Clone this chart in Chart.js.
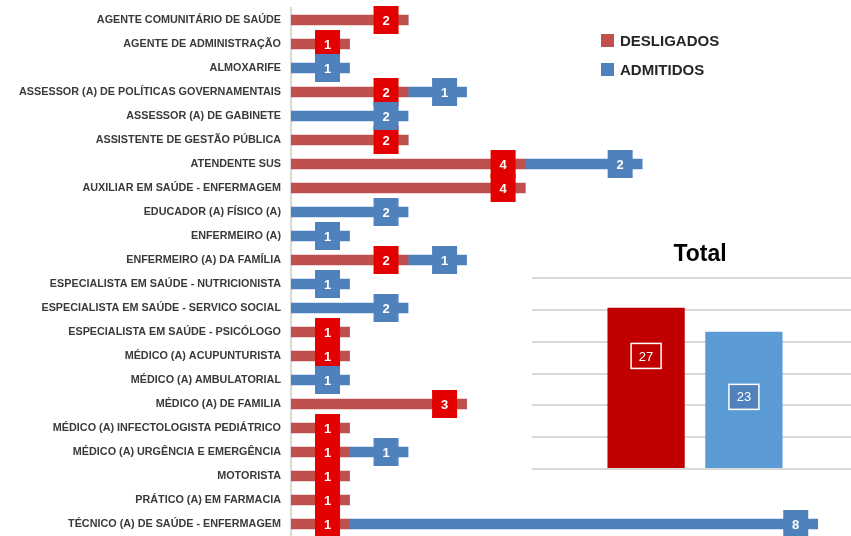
<!DOCTYPE html>
<html>
<head>
<meta charset="utf-8">
<script src="https://cdn.jsdelivr.net/npm/chart.js@4.4.1/dist/chart.umd.min.js"></script>
<style>
  html, body { margin: 0; background: #fff; font-family: "Liberation Sans", Arial, sans-serif; overflow: hidden; width: 851px; height: 536px; }
  #main { position: absolute; left: 0; top: 0; width: 851px; height: 536px; }
  #insetWrap { position: absolute; left: 520px; top: 270px; width: 331px; height: 204px; overflow: hidden; }
  #inset { position: absolute; left: 8px; top: 0; width: 331px; height: 204px; }
  .leg { position: absolute; left: 601px; font: bold 15px "Liberation Sans", Arial, sans-serif; color: #262626; }
  .leg span { display: inline-block; width: 13px; height: 13px; margin-right: 6px; vertical-align: -1px; }
  #totalTitle { position: absolute; left: 600px; width: 200px; top: 240px; text-align: center; font: bold 23px "Liberation Sans", Arial, sans-serif; color: #000; }
</style>
</head>
<body>
<div id="main"><canvas id="barChart"></canvas></div>
<div id="totalTitle">Total</div>
<div id="insetWrap"><div id="inset"><canvas id="totalChart"></canvas></div></div>
<div class="leg" style="top:32px"><span style="background:#c0504d"></span>DESLIGADOS</div>
<div class="leg" style="top:61px"><span style="background:#4f81bd"></span>ADMITIDOS</div>
<script>
// Cargos e movimentações

const cargos = [
    'AGENTE COMUNITÁRIO DE SAÚDE',
    'AGENTE DE ADMINISTRAÇÃO',
    'ALMOXARIFE',
    'ASSESSOR (A) DE POLÍTICAS GOVERNAMENTAIS',
    'ASSESSOR (A) DE GABINETE',
    'ASSISTENTE DE GESTÃO PÚBLICA',
    'ATENDENTE SUS',
    'AUXILIAR EM SAÚDE - ENFERMAGEM',
    'EDUCADOR (A) FÍSICO (A)',
    'ENFERMEIRO (A)',
    'ENFERMEIRO (A) DA FAMÍLIA',
    'ESPECIALISTA EM SAÚDE - NUTRICIONISTA',
    'ESPECIALISTA EM SAÚDE - SERVICO SOCIAL',
    'ESPECIALISTA EM SAÚDE - PSICÓLOGO',
    'MÉDICO (A) ACUPUNTURISTA',
    'MÉDICO (A) AMBULATORIAL',
    'MÉDICO (A) DE FAMILIA',
    'MÉDICO (A) INFECTOLOGISTA PEDIÁTRICO',
    'MÉDICO (A) URGÊNCIA E EMERGÊNCIA',
    'MOTORISTA',
    'PRÁTICO (A) EM FARMACIA',
    'TÉCNICO (A) DE SAÚDE - ENFERMAGEM'
];
const desligados = [2, 1, 0, 2, 0, 2, 4, 4, 0, 0, 2, 0, 0, 1, 1, 0, 3, 1, 1, 1, 1, 1];
const admitidos  = [0, 0, 1, 1, 2, 0, 2, 0, 2, 1, 1, 1, 2, 0, 0, 1, 0, 0, 1, 0, 0, 8];

const totalLabels = ['DESLIGADOS', 'ADMITIDOS'];
const totalValues = [27, 23];

const barColors = ['#c0504d', '#4f81bd'];
const boxColors = ['#e30000', '#4f81bd'];

// value boxes at the end of each segment, red series first then blue
const boxLabels = {
    id: 'boxLabels',
    afterDatasetsDraw(chart) {
        const ctx = chart.ctx;
        ctx.save();
        ctx.font = 'bold 13px "Liberation Sans", Arial, sans-serif';
        ctx.textAlign = 'center';
        ctx.textBaseline = 'middle';
        chart.data.datasets.forEach((ds, di) => {
            chart.getDatasetMeta(di).data.forEach((el, i) => {
                const v = ds.data[i];
                if (!v) return;
                const cx = el.x - 22;
                ctx.fillStyle = boxColors[di];
                ctx.fillRect(cx - 12.5, el.y - 14, 25, 28);
                ctx.fillStyle = '#fff';
                ctx.fillText(v, cx, el.y + 1);
            });
        });
        ctx.restore();
    }
};

new Chart(document.getElementById('barChart').getContext('2d'), {
    type: 'bar',
    data: {
        labels: cargos,
        datasets: [
            { label: 'DESLIGADOS', data: desligados, backgroundColor: barColors[0], barThickness: 10 },
            { label: 'ADMITIDOS', data: admitidos, backgroundColor: barColors[1], barThickness: 10 }
        ]
    },
    options: {
        indexAxis: 'y',
        responsive: true,
        maintainAspectRatio: false,
        animation: false,
        layout: { padding: { top: 8, right: 4, left: 0, bottom: 0 } },
        plugins: { legend: { display: false }, tooltip: { enabled: false } },
        scales: {
            x: { stacked: true, display: false, min: 0, max: 9.5 },
            y: {
                stacked: true,
                grid: { display: false, drawTicks: false },
                border: { color: '#d9d9d9', width: 2 },
                ticks: {
                    color: '#3a3a3a',
                    padding: 10,
                    autoSkip: false,
                    font: { family: '"Liberation Sans", Arial, sans-serif', size: 10.8, weight: 'bold' }
                },
                afterFit: (s) => {
                    s.width = 291;
                    s.paddingTop = 0;
                    s.paddingBottom = 0;
                }
            }
        }
    },
    plugins: [boxLabels]
});

// Total inset
const totalBoxColors = ['#c00000', '#4f81bd'];
const totalLabelShift = [-32, -3];

const totalBoxes = {
    id: 'totalBoxes',
    afterDatasetsDraw(chart) {
        const ctx = chart.ctx;
        ctx.save();
        ctx.font = '13px "Liberation Sans", Arial, sans-serif';
        ctx.textAlign = 'center';
        ctx.textBaseline = 'middle';
        chart.data.datasets.forEach((ds, di) => {
            const el = chart.getDatasetMeta(di).data[0];
            const cy = (el.y + el.base) / 2 + totalLabelShift[di];
            ctx.fillStyle = totalBoxColors[di];
            ctx.fillRect(el.x - 15, cy - 12.5, 30, 25);
            ctx.strokeStyle = '#fff';
            ctx.lineWidth = 1.5;
            ctx.strokeRect(el.x - 15, cy - 12.5, 30, 25);
            ctx.fillStyle = '#fff';
            ctx.fillText(ds.data[0], el.x, cy + 1);
        });
        ctx.restore();
    }
};

new Chart(document.getElementById('totalChart').getContext('2d'), {
    type: 'bar',
    data: {
        labels: ['Total'],
        datasets: totalLabels.map((l, i) => ({
            label: l,
            data: [totalValues[i]],
            backgroundColor: i === 0 ? '#c00000' : '#5b9bd5',
            categoryPercentage: 0.6,
            barPercentage: 0.79
        }))
    },
    options: {
        responsive: true,
        maintainAspectRatio: false,
        animation: false,
        layout: { padding: { top: 8, right: 1, left: 4, bottom: 5 } },
        plugins: { legend: { display: false }, tooltip: { enabled: false } },
        scales: {
            x: { display: false },
            y: {
                min: 0,
                max: 32,
                ticks: { display: false, count: 7 },
                grid: { color: '#d9d9d9', lineWidth: 2, drawTicks: false },
                border: { display: false },
                afterFit: (s) => { s.width = 0; }
            }
        }
    },
    plugins: [totalBoxes]
});
</script>
</body>
</html>
